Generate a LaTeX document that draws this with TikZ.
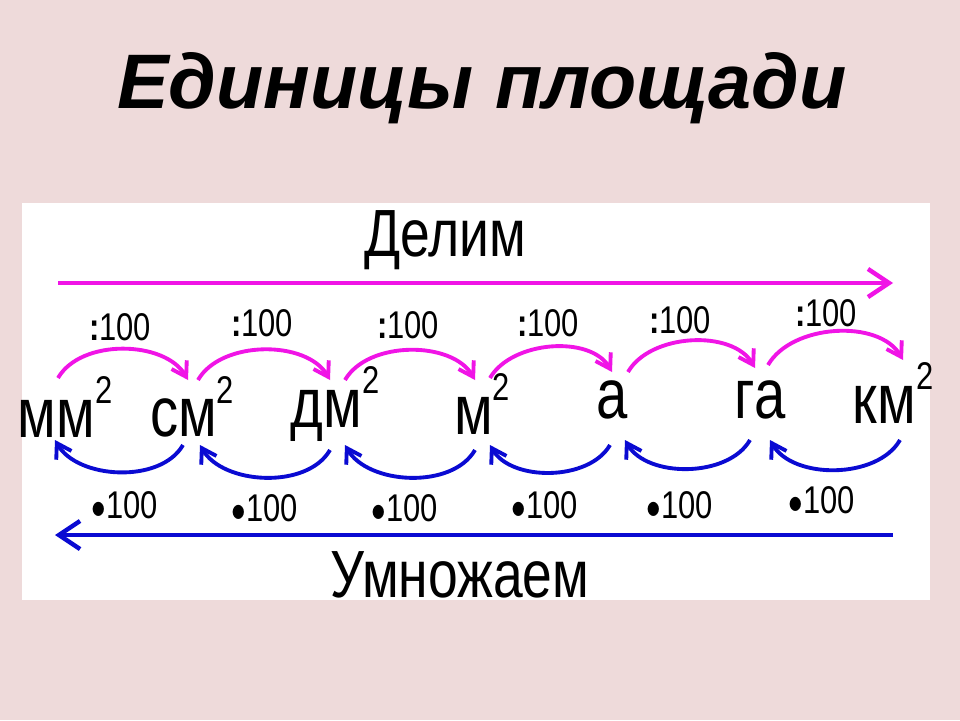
\documentclass[tikz,border=0pt]{standalone}
\usepackage{fontspec}
\setmainfont{Liberation Sans}
\usetikzlibrary{arrows.meta}
\definecolor{pink1}{RGB}{240,20,230}
\definecolor{blue1}{RGB}{10,10,210}
\begin{document}
\begin{tikzpicture}[x=0.02cm,y=-0.02cm,
  lbl/.style={font=\fontsize{40}{42}\selectfont,xscale=0.8,inner sep=0},
  num/.style={font=\fontsize{22}{24}\selectfont,xscale=0.8,inner sep=0},
  pk/.style={draw=pink1,line width=2.2pt,-{Straight Barb[length=8pt,width=10pt]}},
  bl/.style={draw=blue1,line width=2.2pt,-{Straight Barb[length=8pt,width=10pt]}}]
\fill[fill={rgb,255:red,238;green,218;blue,218}] (0,0) rectangle (960,720);
\useasboundingbox (0,0) rectangle (960,720);
\fill[white] (22,203) rectangle (930,600);
\node (title) at (482,88) {\fontsize{44}{46}\selectfont\bfseries\itshape Единицы площади};
\node[font=\fontsize{38}{40}\selectfont,xscale=0.8] (del) at (445,240) {Делим};
\node[font=\fontsize{38}{40}\selectfont,xscale=0.8] (umn) at (460,575) {Умножаем};
\coordinate (p1) at (58,283); \coordinate (p2) at (893,283);
\draw[pink1,line width=2.5pt,-{Straight Barb[length=12pt,width=16pt]}] (p1) -- (p2);
\coordinate (b1) at (893,535); \coordinate (b2) at (55,535);
\draw[blue1,line width=2.5pt,-{Straight Barb[length=12pt,width=16pt]}] (b1) -- (b2);
\node[lbl] (mm) at (65,407) {мм\raisebox{0.9ex}{\fontsize{22}{22}\selectfont 2}};
\node[lbl] (sm) at (192,407) {см\raisebox{0.9ex}{\fontsize{22}{22}\selectfont 2}};
\node[lbl] (dm) at (335,404) {дм\raisebox{0.9ex}{\fontsize{22}{22}\selectfont 2}};
\node[lbl] (m) at (482,404) {м\raisebox{0.9ex}{\fontsize{22}{22}\selectfont 2}};
\node[lbl] (a) at (612,400) {а};
\node[lbl] (ga) at (760,400) {га};
\node[lbl] (km) at (893,393) {км\raisebox{0.9ex}{\fontsize{22}{22}\selectfont 2}};
\draw[pk] (58,378) to[out=60,in=120,looseness=0.9] (188,380);
\draw[pk] (198,380) to[out=60,in=120,looseness=0.9] (330,380);
\draw[pk] (345,380) to[out=60,in=120,looseness=0.9] (475,380);
\draw[pk] (490,378) to[out=60,in=120,looseness=0.9] (612,372);
\draw[pk] (628,372) to[out=60,in=120,looseness=0.9] (755,368);
\draw[pk] (768,365) to[out=60,in=120,looseness=0.9] (903,360);
\draw[bl] (183,445) to[out=-120,in=-60,looseness=0.9] (55,440);
\draw[bl] (330,450) to[out=-120,in=-60,looseness=0.9] (200,445);
\draw[bl] (475,450) to[out=-120,in=-60,looseness=0.9] (345,445);
\draw[bl] (610,445) to[out=-120,in=-60,looseness=0.9] (490,445);
\draw[bl] (750,440) to[out=-120,in=-60,looseness=0.9] (625,440);
\draw[bl] (900,440) to[out=-120,in=-60,looseness=0.9] (770,440);
\foreach \x/\y [count=\i] in {120/327,262/323,408/325,548/323,680/320,826/313}
  \node[num] (d\i) at (\x,\y) {\textbf{:}100};
\foreach \x/\y [count=\i] in {125/505,265/508,405/508,545/505,680/505,822/500}
  \node[num] (u\i) at (\x,\y) {$\bullet$100};
\end{tikzpicture}
\end{document}
